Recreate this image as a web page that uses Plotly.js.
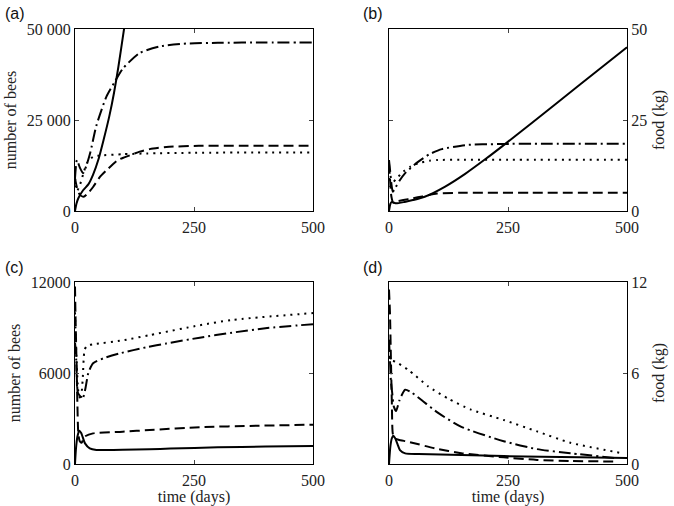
<!DOCTYPE html>
<html><head><meta charset="utf-8">
<script src="https://cdn.plot.ly/plotly-3.0.1.min.js"></script>
<style>html,body{margin:0;padding:0;background:#fff}#plot{width:674px;height:506px}</style>
</head><body><div id="plot"></div>
<script>
// Panel (a): number of bees
const aSolidX = [0, 3, 7, 17, 28, 38, 50, 60, 72, 82, 91, 103, 112];
const aSolidY = [0, 2000, 3500, 5700, 7300, 10000, 14500, 19500, 26000, 32500, 39500, 50000, 58000];
const aDashDotX = [0, 4, 10, 17, 24, 32, 45, 66, 84, 101, 136, 178, 234, 300, 400, 500];
const aDashDotY = [9000, 14000, 12000, 10400, 12500, 16000, 23500, 31400, 35600, 39200, 43400, 45200, 46000, 46200, 46300, 46300];
const aDashX = [0, 4, 10, 18, 28, 38, 52, 67, 90, 105, 136, 157, 192, 260, 350, 500];
const aDashY = [9000, 6500, 4500, 3900, 5000, 6600, 9300, 11300, 14000, 14800, 16300, 17000, 17600, 17900, 17900, 17900];
const aDotX = [0, 4, 10, 18, 25, 38, 60, 100, 150, 250, 500];
const aDotY = [9000, 5500, 7000, 10500, 13100, 14900, 15300, 15600, 15800, 16000, 16100];

// Panel (b): food (kg)
const bSolidX = [0, 3, 6, 10, 15, 33, 50, 75, 118, 160, 202, 239, 300, 400, 500];
const bSolidY = [0, 2.0, 2.5, 2.3, 2.1, 2.5, 3.0, 3.9, 6.7, 10.2, 14.2, 17.9, 24.2, 34.6, 45.0];
const bDashDotX = [0, 2, 5, 8, 14, 22, 34, 61, 85, 111, 160, 230, 330, 500];
const bDashDotY = [14, 11.5, 7.5, 5.3, 6.5, 8.3, 10.4, 13.5, 15.6, 17.0, 18.1, 18.4, 18.5, 18.5];
const bDotX = [0, 3, 8, 15, 30, 45, 61, 85, 101, 150, 250, 500];
const bDotY = [9, 6.8, 7.7, 8.8, 10.8, 12.2, 13.1, 13.8, 14.0, 14.1, 14.1, 14.1];
const bDashX = [0, 2, 5, 9, 15, 30, 50, 70, 101, 150, 300, 500];
const bDashY = [13, 9, 4, 2.3, 2.6, 3.0, 3.5, 4.0, 4.8, 5.0, 5.0, 5.0];

// Panel (c): number of bees
const cSolidX = [0, 2, 5, 9, 13, 21, 31, 45, 60, 100, 157, 200, 300, 400, 500];
const cSolidY = [0, 1000, 1800, 2200, 2050, 1360, 1030, 920, 920, 940, 970, 1020, 1100, 1150, 1190];
const cDashX = [0, 1, 3, 5, 7, 10, 14, 20, 38, 100, 157, 262, 380, 500];
const cDashY = [11700, 9900, 7000, 4000, 2000, 1500, 1400, 1800, 2020, 2130, 2240, 2430, 2520, 2590];
const cDashDotX = [0, 2, 4, 6, 10, 16, 22, 28, 38, 60, 95, 150, 192, 262, 330, 400, 500];
const cDashDotY = [8000, 7300, 5500, 4700, 4500, 4300, 5000, 6000, 6640, 6970, 7300, 7700, 7950, 8330, 8660, 8950, 9220];
const cDotX = [0, 3, 7, 12, 16, 20, 25, 40, 100, 157, 262, 330, 500];
const cDotY = [10000, 7000, 4800, 4200, 5500, 7500, 7800, 7900, 8150, 8500, 9150, 9500, 9950];

// Panel (d): food (kg)
const dDashX = [0, 2, 4, 6, 8, 12, 20, 40, 97, 152, 241, 311, 381, 480];
const dDashY = [11.5, 10, 7, 4, 2, 1.7, 1.6, 1.47, 1.03, 0.71, 0.44, 0.27, 0.2, 0.16];
const dSolidX = [0, 3, 6, 9, 13, 18, 23, 34, 62, 152, 241, 400, 500];
const dSolidY = [0, 1.2, 1.7, 1.87, 1.7, 1.3, 0.92, 0.7, 0.66, 0.6, 0.52, 0.44, 0.4];
const dDashDotX = [0, 2, 4, 7, 10, 15, 22, 34, 48, 69, 104, 152, 241, 311, 381, 480];
const dDashDotY = [8.2, 6.9, 5.5, 4.6, 3.8, 3.5, 4.2, 4.9, 4.7, 4.2, 3.35, 2.45, 1.5, 0.98, 0.71, 0.38];
const dDotX = [0, 3, 7, 13, 41, 83, 125, 171, 241, 311, 381, 490];
const dDotY = [8, 6.8, 6.8, 6.75, 6.2, 5.1, 4.3, 3.6, 2.9, 2.15, 1.4, 0.71];

const xTicks = [0, 250, 500];
const aTickVals = [0, 25000, 50000];
const aTickText = ['0', '25 000', '50 000'];
const bTickVals = [0, 25, 50];
const cTickVals = [0, 6000, 12000];
const dTickVals = [0, 6, 12];

const SERIF = 'Liberation Serif';
const styles = {
  solid: {color: '#000', width: 2, dash: 'solid'},
  dash: {color: '#000', width: 2, dash: '10px,5px'},
  dot: {color: '#000', width: 2, dash: '2px,5px'},
  dashdot: {color: '#000', width: 2, dash: '12px,4px,2px,4px'}
};
function tr(x, y, st, ax) {
  return {x: x, y: y, type: 'scatter', mode: 'lines', xaxis: 'x' + ax, yaxis: 'y' + ax,
    line: Object.assign({shape: 'spline', smoothing: 0.6}, styles[st]), hoverinfo: 'skip', showlegend: false};
}
const data = [
  tr(aDotX, aDotY, 'dot', ''), tr(aDashX, aDashY, 'dash', ''), tr(aDashDotX, aDashDotY, 'dashdot', ''), tr(aSolidX, aSolidY, 'solid', ''),
  tr(bDotX, bDotY, 'dot', '2'), tr(bDashX, bDashY, 'dash', '2'), tr(bDashDotX, bDashDotY, 'dashdot', '2'), tr(bSolidX, bSolidY, 'solid', '2'),
  tr(cDotX, cDotY, 'dot', '3'), tr(cDashX, cDashY, 'dash', '3'), tr(cDashDotX, cDashDotY, 'dashdot', '3'), tr(cSolidX, cSolidY, 'solid', '3'),
  tr(dDotX, dDotY, 'dot', '4'), tr(dDashX, dDashY, 'dash', '4'), tr(dDashDotX, dDashDotY, 'dashdot', '4'), tr(dSolidX, dSolidY, 'solid', '4')
];
const W = 674, H = 506;
const colL = [75 / W, 313 / W], colR = [389 / W, 627 / W];
const rowT = [1 - 211 / H, 1 - 29 / H], rowB = [1 - 464 / H, 1 - 282 / H];
const tf = {family: SERIF, size: 16, color: '#222'};
function xa(dom, anchor, title) {
  const o = {domain: dom, anchor: anchor, range: [0, 500], tickvals: xTicks, ticks: 'inside', ticklen: 4,
    showline: true, linecolor: '#000', linewidth: 1, mirror: 'ticks', showgrid: false, zeroline: false,
    tickfont: tf, fixedrange: true, ticklabelstandoff: 2};
  if (title) o.title = {text: title, font: tf, standoff: 0};
  return o;
}
function ya(dom, anchor, vals, text, title, side) {
  return {domain: dom, anchor: anchor, range: [0, vals[2]], tickvals: vals, ticktext: text || vals.map(String),
    ticks: 'inside', ticklen: 4, showline: true, linecolor: '#000', linewidth: 1, mirror: 'ticks',
    showgrid: false, zeroline: false, tickfont: tf, side: side, fixedrange: true,
    title: {text: title, font: tf, standoff: 6}};
}
const layout = {
  width: W, height: H, margin: {l: 0, r: 0, t: 0, b: 0}, paper_bgcolor: '#fff', plot_bgcolor: '#fff',
  showlegend: false, font: {family: SERIF},
  xaxis: xa(colL, 'y', null), yaxis: ya(rowT, 'x', aTickVals, aTickText, 'number of bees', 'left'),
  xaxis2: xa(colR, 'y2', null), yaxis2: ya(rowT, 'x2', bTickVals, null, 'food (kg)', 'right'),
  xaxis3: xa(colL, 'y3', 'time (days)'), yaxis3: ya(rowB, 'x3', cTickVals, null, 'number of bees', 'left'),
  xaxis4: xa(colR, 'y4', 'time (days)'), yaxis4: ya(rowB, 'x4', dTickVals, null, 'food (kg)', 'right'),
  annotations: [
    {text: '(a)', x: 3 / W, y: 1 - 14 / H},
    {text: '(b)', x: 361 / W, y: 1 - 14 / H},
    {text: '(c)', x: 3 / W, y: 1 - 267 / H},
    {text: '(d)', x: 361 / W, y: 1 - 267 / H}
  ].map(a => Object.assign(a, {xref: 'paper', yref: 'paper', xanchor: 'left', yanchor: 'middle', showarrow: false,
    font: {family: 'Liberation Sans', size: 16, color: '#111'}}))
};
Plotly.newPlot('plot', data, layout, {staticPlot: true});
</script></body></html>
